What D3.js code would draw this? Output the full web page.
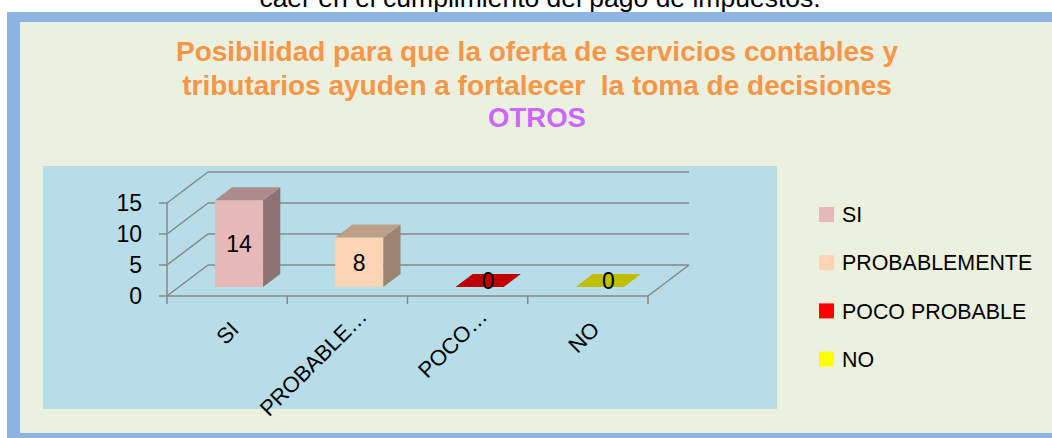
<!DOCTYPE html>
<html><head><meta charset="utf-8">
<script src="https://cdn.jsdelivr.net/npm/d3@7"></script>
<style>html,body{margin:0;padding:0;background:#fff;overflow:hidden}</style>
</head><body>
<svg id="chart" width="1052" height="438"></svg>
<script>
const categories = ["SI", "PROBABLEMENTE", "POCO PROBABLE", "NO"];
const tickLabels = ["SI", "PROBABLE…", "POCO…", "NO"];
const values = [14, 8, 0, 0];
const colors = ["#E6B9B8", "#FCD5B5", "#FF0000", "#FFFF00"];
const yTicks = [0, 5, 10, 15];
const titleLines = ["Posibilidad para que la oferta de servicios contables y",
                    "tributarios ayuden a fortalecer  la toma de decisiones"];
const subtitle = "OTROS";
const aboveText = "caer en el cumplimiento del pago de impuestos.";

const svg = d3.select("#chart");
const font = "'Liberation Sans', Arial, sans-serif";

// frame
svg.append("rect").attr("x", 7).attr("y", 12).attr("width", 1050).attr("height", 430).attr("fill", "#8EB4E3");
svg.append("rect").attr("x", 20).attr("y", 22).attr("width", 1040).attr("height", 411).attr("fill", "#EBF1DE");
svg.append("text").attr("x", 540).attr("y", 7).attr("text-anchor", "middle")
  .attr("font-family", font).attr("font-size", 26.5).attr("fill", "#000").text(aboveText);

// title
const tb = [61, 94.5];
titleLines.forEach((t, i) => {
  svg.append("text").attr("x", 537).attr("y", tb[i]).attr("text-anchor", "middle")
    .attr("font-family", font).attr("font-weight", "bold").attr("font-size", 28)
    .attr("fill", "#F79646").attr("xml:space", "preserve").style("white-space", "pre").text(t);
});
svg.append("text").attr("x", 537).attr("y", 127).attr("text-anchor", "middle")
  .attr("font-family", font).attr("font-weight", "bold").attr("font-size", 27.5)
  .attr("fill", "#CC66FF").text(subtitle);

// plot area
svg.append("rect").attr("x", 43).attr("y", 166).attr("width", 734).attr("height", 243).attr("fill", "#B7DEE8");

const ox = 167, oy = 296, W = 481, H = 93, DX = 41, DY = 31;
const x = d3.scaleBand().domain(categories).range([ox, ox + W]);
const y = d3.scaleLinear().domain([0, d3.max(yTicks)]).range([0, H]);
const proj = (px, v, d) => [px + DX * d, oy - y(v) - DY * d];
const gridColor = "#878787";
const g = svg.append("g");
const line = (a, b) => g.append("line").attr("x1", a[0]).attr("y1", a[1]).attr("x2", b[0]).attr("y2", b[1])
  .attr("stroke", gridColor).attr("stroke-width", 1.5);

yTicks.forEach(t => {
  line(proj(ox, t, 1), proj(ox + W, t, 1));
  line(proj(ox, t, 0), proj(ox, t, 1));
  line([ox - 8, oy - y(t)], [ox, oy - y(t)]);
});
line(proj(ox, 0, 0), proj(ox, d3.max(yTicks), 0));
line(proj(ox, 0, 0), proj(ox + W, 0, 0));
line(proj(ox + W, 0, 0), proj(ox + W, 0, 1));
const bounds = categories.map(c => x(c)).concat([ox + W]);
bounds.forEach(b => line([b, oy], [b, oy + 8]));

// y tick labels
g.selectAll(".ytl").data(yTicks).enter().append("text")
  .attr("x", 142).attr("y", t => oy - y(t) + 8.3).attr("text-anchor", "end")
  .attr("font-family", font).attr("font-size", 23).attr("fill", "#000").text(t => t);

// category labels
tickLabels.forEach((lab, i) => {
  const cx = x(categories[i]) + x.bandwidth() / 2;
  const trunc = lab.endsWith("…");
  const px = cx + (trunc ? 21 : 13), py = trunc ? 318 : 331;
  g.append("text").attr("transform", `translate(${px},${py}) rotate(-45)`)
    .attr("text-anchor", "end").attr("font-family", font).attr("font-size", 22).attr("fill", "#000").text(lab);
});

// bars
const d0 = 0.29, d1 = 0.71;
const shade = (c, k) => { const r = d3.rgb(c); return d3.rgb(r.r * k, r.g * k, r.b * k).formatHex(); };
const poly = pts => pts.map(p => p.join(",")).join(" ");
values.forEach((v, i) => {
  const bw = x.bandwidth();
  const x0 = x(categories[i]) + 0.3 * bw, x1 = x0 + 0.4 * bw;
  const bg = g.append("g");
  if (v > 0) {
    bg.append("polygon").attr("points", poly([proj(x0, 0, d0), proj(x1, 0, d0), proj(x1, v, d0), proj(x0, v, d0)])).attr("fill", colors[i]);
    bg.append("polygon").attr("points", poly([proj(x1, 0, d0), proj(x1, 0, d1), proj(x1, v, d1), proj(x1, v, d0)])).attr("fill", shade(colors[i], 0.62));
  }
  bg.append("polygon").attr("points", poly([proj(x0, v, d0), proj(x1, v, d0), proj(x1, v, d1), proj(x0, v, d1)])).attr("fill", shade(colors[i], 0.75));
  let lx, ly;
  if (v > 0) { lx = (x0 + x1) / 2 + DX * d0; ly = oy - DY * d0 - y(v) / 2; }
  else { const c = proj((x0 + x1) / 2, 0, (d0 + d1) / 2); lx = c[0]; ly = c[1]; }
  bg.append("text").attr("x", lx).attr("y", ly + 8.3).attr("text-anchor", "middle")
    .attr("font-family", font).attr("font-size", 23).attr("fill", "#000").text(v);
});

// legend
const lg = svg.append("g");
categories.forEach((c, i) => {
  const cy = 214.5 + i * 48.2;
  lg.append("rect").attr("x", 819).attr("y", cy - 7.5).attr("width", 15).attr("height", 15).attr("fill", colors[i]);
  lg.append("text").attr("x", 842).attr("y", cy + 7.6).attr("font-family", font).attr("font-size", 21.4)
    .attr("fill", "#000").text(c);
});
</script>
</body></html>
